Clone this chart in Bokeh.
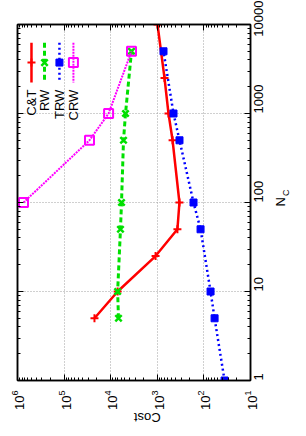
import math
from bokeh.plotting import figure
from bokeh.models import (Range1d, LogAxis, FixedTicker, NumeralTickFormatter,
                          Label, LogTickFormatter, CustomJSTickFormatter)
from bokeh.embed import file_html
from bokeh.resources import INLINE

# ---------------- data ----------------
ct_nc   = [5, 10, 25, 50, 100, 500, 1000, 2500, 10000]
ct_cost = [22300, 7100, 1090, 370, 335, 470, 575, 700, 990]

rw_nc   = [5, 10, 50, 100, 500, 1000, 5000]
rw_cost = [6800, 7100, 6170, 5860, 5310, 4810, 3580]

trw_nc   = [1, 5, 10, 50, 100, 500, 1000, 5000]
trw_cost = [36, 59, 72, 118, 167, 334, 449, 736]

crw_nc   = [100, 500, 1000, 5000]
crw_cost = [743000, 28500, 11100, 3580]

series_names = ["C&T", "RW", "TRW", "CRW"]

cost_ticks = [1e1, 1e2, 1e3, 1e4, 1e5, 1e6]
nc_ticks = [1, 10, 100, 1000, 10000]
cost_minor = [m * 10 ** k for k in range(1, 6) for m in range(2, 10)]
nc_minor = [m * 10 ** k for k in range(0, 4) for m in range(2, 10)]

# ---------------- figure ----------------
FONT = "Liberation Sans"
COST_HI, COST_LO = 1e6, 1e1   # left -> right (reversed)
NC_LO, NC_HI = 1, 1e4         # bottom -> top

p = figure(width=306, height=436, output_backend="svg", toolbar_location=None,
           x_axis_type="log", y_axis_type="log",
           x_range=Range1d(COST_HI, COST_LO), y_range=Range1d(NC_LO, NC_HI),
           x_axis_location="below", y_axis_location="right",
           min_border_left=17, min_border_right=56, min_border_top=24,
           min_border_bottom=56)
p.background_fill_color = "white"
p.border_fill_color = "white"
p.outline_line_color = "black"
p.outline_line_width = 1.5

xticker = FixedTicker(ticks=cost_ticks, minor_ticks=cost_minor)
yticker = FixedTicker(ticks=nc_ticks, minor_ticks=nc_minor)


def fx(frac):
    a, b = math.log10(COST_HI), math.log10(COST_LO)
    return 10 ** (a + (b - a) * frac)


def fy(frac_from_top):
    a, b = math.log10(NC_HI), math.log10(NC_LO)
    return 10 ** (a + (b - a) * frac_from_top)


def style_axis(ax, labels=True):
    ax.major_tick_in = 6
    ax.major_tick_out = 0
    ax.minor_tick_in = 3
    ax.minor_tick_out = 0
    ax.major_tick_line_color = "black"
    ax.minor_tick_line_color = "black"
    ax.major_tick_line_width = 1
    ax.minor_tick_line_width = 1
    ax.axis_line_color = "black"
    ax.axis_line_width = 1.5
    ax.major_label_text_font = FONT
    ax.major_label_text_font_size = "13px"
    ax.major_label_text_color = "black"
    if not labels:
        ax.formatter = CustomJSTickFormatter(code="return ''")
        ax.major_label_standoff = 0


xa = p.xaxis[0]
xa.ticker = xticker
xa.formatter = LogTickFormatter()
style_axis(xa)
xa.major_label_orientation = math.pi / 2
xa.major_label_standoff = 10
xa.axis_label = "Cost"
xa.axis_label_orientation = math.pi
xa.axis_label_text_font = FONT
xa.axis_label_text_font_size = "13px"
xa.axis_label_text_font_style = "normal"
xa.axis_label_text_color = "black"
xa.axis_label_standoff = 4

ya = p.yaxis[0]
ya.ticker = yticker
ya.formatter = NumeralTickFormatter(format="0")
style_axis(ya)
ya.major_label_orientation = math.pi / 2
ya.major_label_standoff = 8

top_ax = LogAxis(ticker=xticker)
style_axis(top_ax, labels=False)
p.add_layout(top_ax, "above")
left_ax = LogAxis(ticker=yticker)
style_axis(left_ax, labels=False)
p.add_layout(left_ax, "left")


def title_axis(text, frac, size, standoff):
    ax = LogAxis(ticker=FixedTicker(ticks=[fy(frac)], minor_ticks=[]),
                 formatter=CustomJSTickFormatter(code="return '%s'" % text))
    ax.major_tick_line_color = None
    ax.minor_tick_line_color = None
    ax.axis_line_color = None
    ax.major_tick_in = 0
    ax.major_tick_out = 0
    ax.major_label_orientation = math.pi / 2
    ax.major_label_standoff = standoff
    ax.major_label_text_font = FONT
    ax.major_label_text_font_size = size
    ax.major_label_text_color = "black"
    p.add_layout(ax, "right")


# N_C title built from two labels (subscript C)
title_axis("N", 0.511, "13px", 10)
title_axis("C", 0.482, "9px", -12)

for g, t in ((p.xgrid[0], xticker), (p.ygrid[0], yticker)):
    g.ticker = t
    g.grid_line_color = "#a0a0a0"
    g.grid_line_dash = "1 2"
    g.grid_line_width = 1

# ---------------- series ----------------
RED, GREEN, BLUE, MAG = "#ff0000", "#00e000", "#0000ff", "#ff00ff"
styles = [
    dict(color=RED, width=2.5, dash="solid", marker="cross", size=8, fill=None, mlw=2),
    dict(color=GREEN, width=3, dash="5 3", marker="x", size=9, fill=None, mlw=2.5),
    dict(color=BLUE, width=2.5, dash="2 3", marker="square", size=7, fill=BLUE, mlw=1),
    dict(color=MAG, width=2, dash="2 1", marker="square", size=9, fill=None, mlw=2),
]
series = [(ct_cost, ct_nc), (rw_cost, rw_nc), (trw_cost, trw_nc), (crw_cost, crw_nc)]

for (xs, ys), st in zip(series, styles):
    p.line(xs, ys, line_color=st["color"], line_width=st["width"], line_dash=st["dash"])
    p.scatter(xs, ys, marker=st["marker"], size=st["size"], line_color=st["color"],
              fill_color=st["fill"], line_width=st["mlw"])

# ---------------- legend (layout in frame fractions) ----------------
leg_x = [0.060, 0.116, 0.180, 0.240]
leg_top, leg_bot, leg_mid, leg_lab = 0.051, 0.163, 0.107, 0.183
for name, lx, st in zip(series_names, leg_x, styles):
    x = fx(lx)
    p.line([x, x], [fy(leg_top), fy(leg_bot)], line_color=st["color"],
           line_width=st["width"], line_dash=st["dash"])
    p.scatter([x], [fy(leg_mid)], marker=st["marker"], size=st["size"],
              line_color=st["color"], fill_color=st["fill"], line_width=st["mlw"])
    p.add_layout(Label(x=x, y=fy(leg_lab), text=name, angle=math.pi / 2,
                       text_align="right", text_baseline="middle",
                       text_font=FONT, text_font_size="13px", text_color="black"))

open("out.html", "w").write(file_html(p, INLINE))
